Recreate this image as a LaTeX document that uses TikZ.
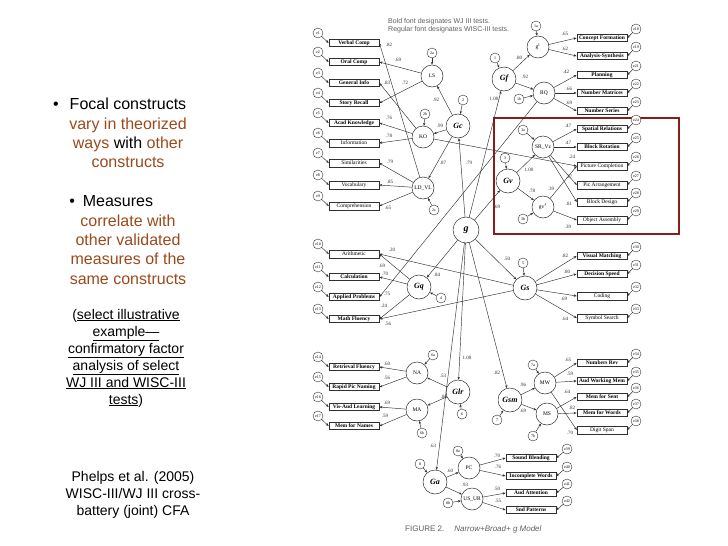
\documentclass[tikz,border=0pt]{standalone}
\usepackage{fontspec}
\setmainfont{Liberation Sans}
\newfontfamily\figfont{Liberation Serif}
\usepackage{xcolor}
\usetikzlibrary{arrows.meta}
\definecolor{ink}{HTML}{303030}
\definecolor{rust}{HTML}{9C4A1C}
\definecolor{maroon}{HTML}{8B1C1C}
\definecolor{capgray}{HTML}{606060}
\newcommand{\boxfont}{\figfont\fontsize{5.5}{6}\selectfont}
\newcommand{\errfont}{\figfont\fontsize{4}{4.5}\selectfont}
\newcommand{\latfont}{\figfont\fontsize{8}{9}\selectfont}
\newcommand{\narfont}{\figfont\fontsize{5.5}{6}\selectfont}
\newcommand{\lblfont}{\figfont\fontsize{5}{6}\selectfont}
\tikzset{
  testbox/.style={rectangle, draw=ink, fill=white, line width=0.45pt, minimum width=50pt,
                  minimum height=7.5pt, inner sep=0.6pt, font=\boxfont},
  wj/.style={testbox, font=\boxfont\bfseries, line width=0.8pt},
  wisc/.style={testbox},
  err/.style={circle, draw=ink, fill=white, line width=0.4pt, minimum size=10pt, inner sep=0pt, font=\errfont},
  broad/.style={circle, draw=ink, fill=white, line width=0.5pt, minimum size=24pt, inner sep=0pt,
                font=\latfont\bfseries\itshape},
  narrow/.style={circle, draw=ink, fill=white, line width=0.5pt, minimum size=22pt, inner sep=0pt, font=\narfont},
  gen/.style={broad, minimum size=26pt, font=\figfont\fontsize{10}{11}\selectfont\bfseries\itshape},
  lbl/.style={font=\lblfont, text=ink, inner sep=0pt},
  flow/.style={-{Stealth[length=3pt,width=2.4pt]}, draw=ink, line width=0.45pt},
  body/.style={font=\fontsize{16}{19.3}\selectfont, align=center, inner sep=0pt},
  note/.style={font=\fontsize{14}{17}\selectfont, align=center, inner sep=0pt},
}

\begin{document}
\begin{tikzpicture}[x=1pt,y=-1pt]
\fill[white] (0,0) rectangle (728,546);
\useasboundingbox (0,0) rectangle (728,546);

% slide text
\node[body] (focal) at (128,133)
 {\llap{\textbullet\hspace{11pt}}Focal constructs\\
  {\color{rust}vary in theorized}\\
  {\color{rust}ways} with {\color{rust}other}\\
  {\color{rust}constructs}};
\node[body] (measures) at (128,240)
 {\llap{\textbullet\hspace{8pt}}Measures\hbox to 20pt{}\\
  {\color{rust}correlate with}\\
  {\color{rust}other validated}\\
  {\color{rust}measures of the}\\
  {\color{rust}same constructs}};
\node[note] (example) at (126,358)
 {(\underline{select illustrative}\\ \underline{example—}\\ \underline{confirmatory factor}\\
  \underline{analysis of select}\\ \underline{WJ III and WISC-III}\\ \underline{tests})};
\node[note] (source) at (133,495)
 {Phelps et al. (2005)\\ WISC-III/WJ III cross-\\ battery (joint) CFA};

% figure
\node[anchor=west, align=left, inner sep=0pt, text=capgray, font=\fontsize{7}{8}\selectfont] (legend) at (388,26)
 {Bold font designates WJ III tests.\\Regular font designates WISC-III tests.};
\node[anchor=west, inner sep=0pt, text=capgray, font=\fontsize{8}{9}\selectfont] (caption) at (405,529)
 {FIGURE 2.\hspace{10pt}\textit{Narrow+Broad+ g Model}};
\draw[maroon, line width=1.5pt] (494,118) rectangle (679,234);

\foreach \nm/\yy/\txt/\sty/\en in {verbcomp/43/Verbal Comp/wj/1, oralcomp/62/Oral Comp/wj/2,
  geninfo/83/General Info/wj/3, storyrec/103/Story Recall/wj/4, acadknow/123/Acad Knowledge/wj/5,
  information/143/Information/wisc/6, similar/163/Similarities/wisc/7, vocab/185/Vocabulary/wisc/8,
  compreh/206/Comprehension/wisc/9, arith/254/Arithmetic/wisc/10, calc/277/Calculation/wj/11,
  applprob/297/Applied Problems/wj/12, mathflu/319/Math Fluency/wj/13, retrflu/367/Retrieval Fluency/wj/14,
  rapidpic/387/Rapid Pic Naming/wj/15, visaud/407/Vis-Aud Learning/wj/16, memnames/426/Mem for Names/wj/17}{
  \node[\sty] (\nm) at (354,\yy) {\txt};
  \node[err] (e\en) at (318,\yy-10) {e\en};
  \draw[flow] (e\en) -- (\nm.west);
}
\foreach \nm/\yy/\txt/\sty/\en in {conceptf/38/Concept Formation/wj/18, analsyn/56/Analysis-Synthesis/wj/19,
  planning/75/Planning/wj/21, nummat/93/Number Matrices/wj/22, numser/111/Number Series/wj/23,
  spatrel/129/Spatial Relations/wj/24, blockrot/147/Block Rotation/wj/25, piccomp/166/Picture Completion/wisc/26,
  picarr/185/Pic Arrangement/wisc/27, blockdes/202/Block Design/wisc/28, objass/220/Object Assembly/wisc/29,
  vismatch/256/Visual Matching/wj/30, decspeed/274/Decision Speed/wj/31, coding/296/Coding/wisc/32,
  symsearch/318/Symbol Search/wisc/33, numrev/363/Numbers Rev/wj/34, audwm/381/Aud Working Mem/wj/35,
  memsent/397/Mem for Sent/wj/36, memwords/413/Mem for Words/wj/37, digitspan/430/Digit Span/wisc/38}{
  \node[\sty] (\nm) at (602,\yy) {\txt};
  \node[err] (e\en) at (636,\yy-9) {e\en};
  \draw[flow] (e\en) -- (\nm.east);
}
\foreach \nm/\yy/\txt/\en in {sndblend/458/Sound Blending/39, incwords/476/Incomplete Words/40,
  audatt/493/Aud Attention/41, sndpat/510/Snd Patterns/42}{
  \node[wj] (\nm) at (531,\yy) {\txt};
  \node[err] (e\en) at (567,\yy-9) {e\en};
  \draw[flow] (e\en) -- (\nm.east);
}

% factors
\node[gen] (g) at (466,230) {g};
\foreach \nm/\x/\y in {Gc/458/126, Gf/504/79, Gv/508/181, Gq/419/287, Gs/525/288, Glr/458/392, Gsm/510/400, Ga/435/482}
  \node[broad] (\nm) at (\x,\y) {\nm};
\foreach \nm/\x/\y/\txt in {LS/432/76/LS, KO/423/137/KO, LDVL/423/188/LD\_VL, gI/538/47/g\textsuperscript{I},
  RQ/544/93/RQ, SRVz/543/147/SR\_Vz, gvr/543/207/gv$'$, NA/417/373/NA, MA/417/410/MA,
  MW/545/383/MW, MS/547/414/MS, PC/469/468/PC, USUR/472/499/US\_UR}
  \node[narrow] (\nm) at (\x,\y) {\txt};
\foreach \lat/\x/\y/\t in {Gc/463/100/2, LS/432/53/2a, KO/425/114/2b, LDVL/434/210/2c, Gf/495/58/1,
  gI/536/26/1a, RQ/519/99/1b, Gv/505/158/3, SRVz/523/130/3a, gvr/523/219/3b, Gq/441/298/4, Gs/523/263/5,
  Glr/462/414/6, NA/433/355/6a, MA/422/433/6b, Gsm/497/420/7, MW/533/365/7a, MS/533/436/7b,
  Ga/420/464/8, PC/458/451/8a, USUR/448/503/8b}{
  \node[err] (d\lat) at (\x,\y) {\t};
  \draw[flow] (d\lat) -- (\lat);
}

% paths
\foreach \a/\b in {LDVL/verbcomp, LS/oralcomp, KO/geninfo, LS/storyrec, KO/acadknow, KO/information,
  LDVL/similar, LDVL/vocab, LDVL/compreh, Gq/arith, Gs/arith, Gq/calc, RQ/applprob, Gq/mathflu,
  Gs/mathflu, NA/retrflu, NA/rapidpic, MA/visaud, MA/memnames}
  \draw[flow] (\a) -- (\b.east);
\foreach \a/\b in {gI/conceptf, gI/analsyn, RQ/planning, RQ/nummat, RQ/numser, SRVz/spatrel, SRVz/blockrot,
  KO/piccomp, gvr/piccomp, SRVz/picarr, SRVz/blockdes, gvr/objass, Gs/vismatch, Gs/decspeed, Gs/coding,
  Gs/symsearch, MW/numrev, MW/audwm, MS/memsent, MS/memwords, MW/digitspan, PC/sndblend, PC/incwords,
  USUR/audatt, USUR/sndpat}
  \draw[flow] (\a) -- (\b.west);
\foreach \a/\b in {g/Gc, g/Gf, g/Gv, g/Gq, g/Gs, g/Glr, g/Gsm, g/Ga, Gc/LS, Gc/KO, Gc/LDVL, Gf/gI, Gf/RQ,
  Gv/SRVz, Gv/gvr, Glr/NA, Glr/MA, Gsm/MW, Gsm/MS, Ga/PC, Ga/USUR}
  \draw[flow] (\a) -- (\b);

% loadings
\foreach \x/\y/\v [count=\i] in {389/45/.82, 398/60/.69, 387/83/.83, 405/83/.72, 436/100/.92, 389/118/.76,
  440/126/.99, 389/136/.78, 390/162/.79, 443/163/.87, 469/163/.79, 390/182/.85, 388/208/.65,
  494/99/1.00, 519/58/.80, 525/77/.92, 565/34/.65, 565/49/.62, 566/72/.42, 569/89/.66, 569/103/.69,
  568/126/.47, 568/143/.47, 572/157/.24, 529/170/1.00, 569/177/.37, 551/189/.39, 532/191/.78,
  569/204/.81, 568/227/.39, 497/207/.69, 392/250/.20, 382/266/.69, 385/274/.70, 387/294/.75,
  384/306/.24, 388/324/.56, 437/275/.84, 507/259/.50, 565/256/.82, 567/272/.80, 564/299/.69,
  565/319/.64, 387/364/.60, 387/378/.56, 387/403/.69, 385/416/.59, 443/376/.53, 444/397/.86,
  467/358/1.00, 497/373/.82, 523/385/.96, 523/411/.69, 568/360/.65, 570/374/.59, 567/392/.64,
  572/408/.82, 570/433/.70, 433/446/.63, 450/471/.60, 465/485/.93, 497/456/.70, 498/467/.76,
  497/489/.50, 498/501/.55}
  \node[lbl] (w\i) at (\x,\y) {\v};
\end{tikzpicture}
\end{document}
